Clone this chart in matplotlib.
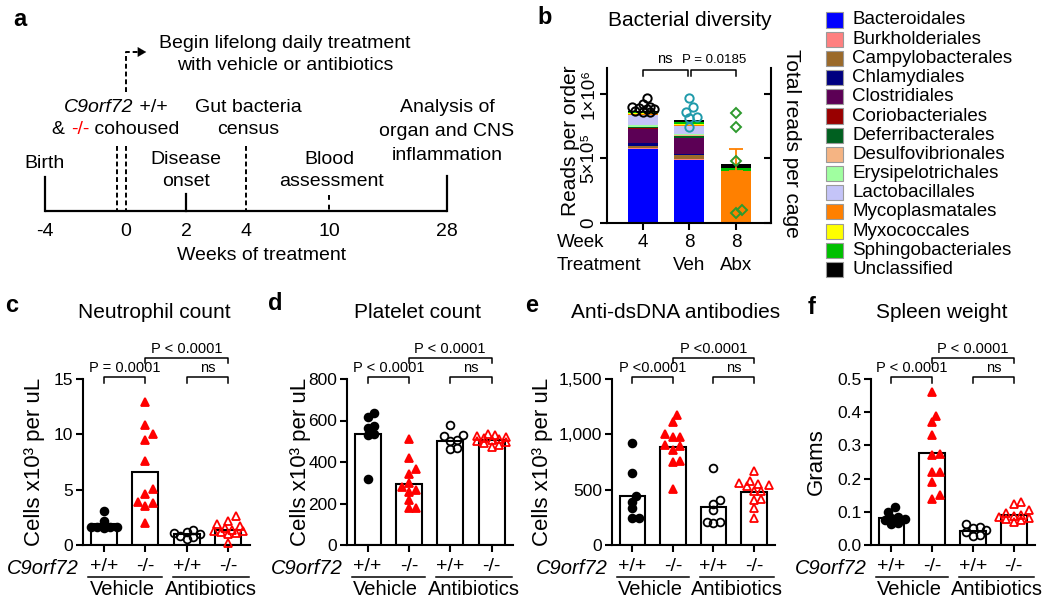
import numpy as np
import matplotlib
matplotlib.use('Agg')
import matplotlib.pyplot as plt
from matplotlib.patches import Rectangle
from matplotlib.transforms import blended_transform_factory
from matplotlib.ticker import FuncFormatter

plt.rcParams['font.family'] = ['Liberation Sans', 'DejaVu Sans']

# ------------------------------------------------------------------ data
timeline_weeks = ['-4', '0', '2', '4', '10', '28']

orders = ['Bacteroidales', 'Burkholderiales', 'Campylobacterales', 'Chlamydiales',
          'Clostridiales', 'Coriobacteriales', 'Deferribacterales', 'Desulfovibrionales',
          'Erysipelotrichales', 'Lactobacillales', 'Mycoplasmatales', 'Myxococcales',
          'Sphingobacteriales', 'Unclassified']
order_colors = ['#0000FF', '#FF8080', '#9B6A2A', '#000080', '#5C0055', '#990000',
                '#006020', '#F5B483', '#A0FFA0', '#C4C4F8', '#FF8000', '#FFFF00',
                '#00C000', '#000000']
b_week = ['4', '8', '8']
b_treatment = ['', 'Veh', 'Abx']
# reads per order (x 1e5) for week4, week8 Veh, week8 Abx
reads_wk4 = [5.75, 0.05, 0.15, 0.25, 1.10, 0.05, 0.05, 0.05, 0.10, 0.80, 0.05, 0.10, 0.10, 0.10]
reads_veh = [4.90, 0.05, 0.30, 0.10, 1.20, 0.05, 0.10, 0.10, 0.10, 0.60, 0.05, 0.15, 0.10, 0.20]
reads_abx = [0.05, 0.00, 0.00, 0.00, 0.02, 0.00, 0.00, 0.00, 0.00, 0.00, 3.95, 0.00, 0.25, 0.30]
myco_err_abx = 1.7
# total reads per cage (x 1e5)
cage_wk4 = [8.6, 8.7, 8.9, 8.8, 9.0, 9.7, 9.2, 8.8, 8.6, 9.0]
cage_veh = [8.6, 9.0, 8.1, 7.4, 9.7, 8.2]
cage_abx = [8.5, 7.4, 4.8, 0.8, 1.0]

genotypes = ['+/+', '-/-', '+/+', '-/-']
treatments = ['Vehicle', 'Antibiotics']

neut_mean = [1.87, 6.63, 0.96, 1.36]
neut_pts = [[3.05, 2.2, 1.6, 1.55, 1.6, 1.6, 1.6],
            [12.95, 10.8, 10.0, 9.5, 7.6, 5.1, 4.6, 3.85, 3.76, 3.5, 2.0],
            [1.35, 1.2, 1.1, 1.0, 0.85, 0.75, 0.55],
            [2.6, 2.2, 1.9, 1.7, 1.5, 1.4, 1.3, 1.25, 1.2, 1.1, 0.15, 1.0]]
plat_mean = [534, 293, 502, 507]
plat_pts = [[635, 615, 575, 565, 530, 535, 318],
            [510, 420, 365, 340, 300, 280, 265, 255, 215, 180, 178],
            [580, 530, 525, 505, 500, 468, 462],
            [535, 530, 525, 520, 515, 510, 505, 500, 495, 490, 480, 470]]
dsdna_mean = [440, 885, 347, 483]
dsdna_pts = [[925, 650, 445, 390, 330, 240, 240],
             [1175, 1110, 1000, 980, 980, 905, 895, 860, 755, 750, 505],
             [700, 405, 375, 315, 210, 205, 195],
             [670, 575, 560, 550, 545, 530, 485, 415, 405, 330, 240, 490]]
spleen_mean = [0.080, 0.277, 0.043, 0.090]
spleen_pts = [[0.115, 0.10, 0.085, 0.082, 0.078, 0.075, 0.065, 0.062],
              [0.46, 0.39, 0.37, 0.33, 0.275, 0.27, 0.22, 0.22, 0.19, 0.15, 0.14],
              [0.062, 0.055, 0.05, 0.045, 0.04, 0.03, 0.027],
              [0.13, 0.125, 0.105, 0.095, 0.09, 0.088, 0.085, 0.08, 0.078, 0.075, 0.07]]

# ------------------------------------------------------------------ figure
W, H = 1050, 607
fig = plt.figure(figsize=(W / 100, H / 100), dpi=100)
renderer = fig.canvas.get_renderer()


def fx(x):
    return x / W


def fy(y):
    return 1 - y / H


def axes_px(left, top, right, bottom):
    return fig.add_axes([fx(left), fy(bottom), (right - left) / W, (bottom - top) / H])


# ------------------------------------------------------------------ panel a
axa = fig.add_axes([0, 0, 1, 1])
axa.set_xlim(0, W)
axa.set_ylim(H, 0)
axa.axis('off')
FS_A = 14


def rich_text(xc, y, parts):
    texts, widths = [], []
    for s, kw in parts:
        t = axa.text(0, y, s, fontsize=FS_A, ha='left', va='center', **kw)
        widths.append(t.get_window_extent(renderer).width)
        texts.append(t)
    x = xc - sum(widths) / 2
    for t, w in zip(texts, widths):
        t.set_x(x)
        x += w


tl_x = [45, 126, 186, 246, 329, 447]  # schematic (non-linear) positions
base_y = 211
axa.plot([tl_x[0], tl_x[-1]], [base_y, base_y], color='black', lw=1.6, solid_capstyle='butt')
axa.plot([tl_x[0]] * 2, [177, base_y], color='black', lw=1.6)
axa.plot([tl_x[2]] * 2, [194, base_y], color='black', lw=1.6)
axa.plot([tl_x[-1]] * 2, [176, base_y], color='black', lw=1.6)
axa.plot([116.5] * 2, [146, base_y], color='black', lw=1.4, ls=(0, (2.5, 1.5)))
axa.plot([tl_x[1]] * 2, [146, base_y], color='black', lw=1.4, ls=(0, (2.5, 1.5)))
axa.plot([tl_x[3]] * 2, [146, base_y], color='black', lw=1.4, ls=(0, (2.5, 1.5)))
axa.plot([tl_x[4]] * 2, [195, base_y], color='black', lw=1.4, ls=(0, (2.5, 2.5)))
# arrow
axa.plot([tl_x[1], tl_x[1], 139], [92, 52, 52], color='black', lw=1.4, ls=(0, (2.5, 1.5)))
axa.annotate('', xy=(149, 52), xytext=(137, 52),
             arrowprops=dict(arrowstyle='-|>,head_length=0.6,head_width=0.35', color='black', lw=0.1))
for lab, x in zip(timeline_weeks, tl_x):
    axa.text(x, 231, lab, ha='center', va='center', fontsize=FS_A)
axa.text(262, 255, 'Weeks of treatment', ha='center', va='center', fontsize=FS_A)
axa.text(20, 20, 'a', ha='center', va='center', fontsize=17, fontweight='bold')
axa.text(285, 43, 'Begin lifelong daily treatment', ha='center', va='center', fontsize=FS_A)
axa.text(285, 65, 'with vehicle or antibiotics', ha='center', va='center', fontsize=FS_A)
rich_text(116, 108, [('C9orf72', dict(style='italic')), (' +/+', {})])
rich_text(116, 130, [('& ', {}), ('-/-', dict(color='red')), (' cohoused', {})])
axa.text(248, 108, 'Gut bacteria', ha='center', va='center', fontsize=FS_A)
axa.text(248, 130, 'census', ha='center', va='center', fontsize=FS_A)
axa.text(44, 163, 'Birth', ha='center', va='center', fontsize=FS_A)
axa.text(186, 160, 'Disease', ha='center', va='center', fontsize=FS_A)
axa.text(186, 182, 'onset', ha='center', va='center', fontsize=FS_A)
axa.text(329, 160, 'Blood', ha='center', va='center', fontsize=FS_A)
axa.text(331, 182, 'assessment', ha='center', va='center', fontsize=FS_A)
axa.text(447, 107, 'Analysis of', ha='center', va='center', fontsize=FS_A)
axa.text(447, 131, 'organ and CNS', ha='center', va='center', fontsize=FS_A)
axa.text(447, 155, 'inflammation', ha='center', va='center', fontsize=FS_A)


# ------------------------------------------------------------------ helpers
def swarm_offsets(ax, xc, vals, diam, maxoff=0.4):
    tr = ax.transData
    ys = [tr.transform((xc, v))[1] for v in vals]
    xpx = tr.transform((xc + 1, 0))[0] - tr.transform((xc, 0))[0]
    lim = maxoff * xpx
    step = 0.4 * diam
    cands = [0.0]
    k = 1
    while k * step <= lim:
        cands += [k * step, -k * step]
        k += 1
    order = np.argsort(ys)
    placed = []
    offs = np.zeros(len(vals))
    for i in order:
        best, bestd = 0.0, -1
        chosen = None
        for c in cands:
            d = min([np.hypot(c - px, ys[i] - py) for px, py in placed] + [1e9])
            if d >= 0.78 * diam:
                chosen = c
                break
            if d > bestd:
                best, bestd = c, d
        if chosen is None:
            chosen = best
        placed.append((chosen, ys[i]))
        offs[i] = chosen
    return offs / xpx


def style_axis(ax):
    for s in ['top', 'right']:
        ax.spines[s].set_visible(False)
    for s in ['left', 'bottom']:
        ax.spines[s].set_linewidth(1.5)


# ------------------------------------------------------------------ panel b
axb = axes_px(607, 68, 771, 223)
style_axis(axb)
axb.spines['right'].set_visible(True)
axb.spines['right'].set_linewidth(1.5)
SC = 1e5
xb = np.arange(3)
stack = np.array([reads_wk4, reads_veh, reads_abx]).T * SC
bottoms = np.zeros(3)
for j, (name, col) in enumerate(zip(orders, order_colors)):
    axb.bar(xb, stack[j], bottom=bottoms, width=0.645, color=col, edgecolor='none', zorder=2)
    bottoms = bottoms + stack[j]
myco_top = stack[:11, 2].sum()
axb.errorbar([2], [myco_top], yerr=[[0], [myco_err_abx * SC]], color=order_colors[10],
             capsize=5, lw=1.3, capthick=1.3, zorder=3)
pt_specs = [(cage_wk4, 'o', 'black', 6.0), (cage_veh, 'o', '#1E9AAA', 6.0), (cage_abx, 'D', '#2E9A2E', 4.6)]
axb.set_xlim(-0.77, 2.75)
axb.set_ylim(0, 1.2e6)
for i, (vals, mk, col, ms) in enumerate(pt_specs):
    v = np.array(vals) * SC
    offs = swarm_offsets(axb, i, v, ms * 1.39 + 1, maxoff=0.3)
    axb.plot(i + offs, v, ls='none', marker=mk, ms=ms, mfc='none', mec=col, mew=1.4, zorder=4, clip_on=False)
axb.set_yticks([0, 5e5, 1e6])
axb.set_yticklabels(['0', '5×10⁵', '1×10⁶'], rotation=90, va='center', fontsize=13.5)
axb.tick_params(axis='y', length=5, width=1.5, pad=2)
axb.set_xticks(xb)
axb.set_xticklabels(['' for _ in xb])
axb.tick_params(axis='x', length=5, width=1.5)
axb2 = axb.twinx()
axb2.set_ylim(axb.get_ylim())
axb2.set_yticks([0, 5e5, 1e6])
axb2.tick_params(axis='y', direction='in', length=5, width=1.5, labelright=False)
for s in axb2.spines.values():
    s.set_visible(False)
tb = blended_transform_factory(axb.transData, fig.transFigure)
for i in range(3):
    axb.text(i, fy(242), b_week[i], transform=tb, ha='center', va='center', fontsize=13.5)
    axb.text(i, fy(265), b_treatment[i], transform=tb, ha='center', va='center', fontsize=13.5)
fig.text(fx(557), fy(242), 'Week', ha='left', va='center', fontsize=13.5)
fig.text(fx(557), fy(265), 'Treatment', ha='left', va='center', fontsize=13.5)
axb.set_ylabel('Reads per order', fontsize=15)
axb.yaxis.set_label_coords(-0.165, 0.53)
fig.text(fx(792), fy(143), 'Total reads per cage', rotation=270, ha='center', va='center', fontsize=15)
fig.text(fx(690), fy(20), 'Bacterial diversity', ha='center', va='center', fontsize=15)
fig.text(fx(545), fy(18), 'b', ha='center', va='center', fontsize=17, fontweight='bold')


def bracket_b(x0, x1, label, fs):
    y0, y1 = 1.186e6, 1.135e6
    axb.plot([x0, x0, x1, x1], [y1, y0, y0, y1], color='black', lw=1.1, clip_on=False)
    axb.text((x0 + x1) / 2, y0 + 0.03e6, label, ha='center', va='bottom', fontsize=fs)


bracket_b(0, 0.96, 'ns', 10.5)
bracket_b(1.04, 2, 'P = 0.0185', 9.5)

# legend (manual key)
for k, (name, col) in enumerate(zip(orders, order_colors)):
    yc = 20 + k * 19.2
    fig.patches.append(Rectangle((fx(826), fy(yc + 7.5)), 17 / W, 15 / H, transform=fig.transFigure,
                                 facecolor=col, edgecolor='#9A9A9A', lw=0.8))
    fig.text(fx(852), fy(yc), name, ha='left', va='center', fontsize=13.5)


# ------------------------------------------------------------------ panels c-f
def dot_panel(left, right, letter, letter_xy, title, title_x, means, pts, ymax, step,
              fmt, ylabel, ylab_x, p1, p2):
    ax = axes_px(left, 379, right, 545)
    style_axis(ax)
    x = np.arange(4)
    ax.set_xlim(-0.5, 3.52)
    ax.set_ylim(0, ymax)
    ax.bar(x, means, width=0.63, color='white', edgecolor='black', linewidth=1.5, zorder=1)
    styles = [('o', 'black', 'black', 5.6), ('^', 'red', 'red', 6.3),
              ('o', 'none', 'black', 5.6), ('^', 'none', 'red', 6.3)]
    for i in range(4):
        mk, fc, ec, ms = styles[i]
        offs = swarm_offsets(ax, i, pts[i], ms * 1.39 + 0.5, maxoff=0.4)
        ax.plot(i + offs, pts[i], ls='none', marker=mk, ms=ms, mfc=fc, mec=ec, mew=1.3,
                zorder=3, clip_on=False)
    ax.set_yticks(np.arange(0, ymax + step / 2, step))
    ax.yaxis.set_major_formatter(FuncFormatter(fmt))
    ax.tick_params(axis='y', labelsize=12.5, length=5, width=1.5, pad=2)
    ax.set_xticks(x)
    ax.set_xticklabels(genotypes)
    ax.tick_params(axis='x', labelsize=14, length=5, width=1.5, pad=4.5)
    ax.set_ylabel(ylabel, fontsize=16)
    ax.yaxis.set_label_coords(ylab_x, 0.5)
    bt = blended_transform_factory(ax.transData, ax.transAxes)
    for (a, b), lab in zip([(-0.37, 1.39), (1.66, 3.49)], treatments):
        ax.plot([a, b], [-0.193, -0.193], color='black', lw=1.1, transform=bt, clip_on=False)
    ax.text(0.44, -0.27, treatments[0], transform=bt, ha='center', va='center', fontsize=14.5)
    ax.text(2.58, -0.27, treatments[1], transform=bt, ha='center', va='center', fontsize=14.5)
    fig.text(fx(left - 4), fy(568), 'C9orf72', ha='right', va='center', fontsize=14.5, style='italic')

    def br(x0, x1, ylev, drop, lab):
        ax.plot([x0, x0, x1, x1], [ylev - drop, ylev, ylev, ylev - drop], color='black', lw=1.1,
                transform=bt, clip_on=False)
        ax.text((x0 + x1) / 2, ylev + 0.012, lab, transform=bt, ha='center', va='bottom', fontsize=10.5)
    br(0, 1, 1.012, 0.036, p1)
    br(2, 3, 1.012, 0.036, 'ns')
    br(1, 3, 1.127, 0.03, p2)
    fig.text(fx(title_x), fy(312), title, ha='center', va='center', fontsize=15)
    fig.text(fx(letter_xy[0]), fy(letter_xy[1]), letter, ha='center', va='center', fontsize=17,
             fontweight='bold')
    return ax


ylab_cells = 'Cells x10³ per uL'
dot_panel(83, 250, 'c', (12, 305), 'Neutrophil count', 154, neut_mean, neut_pts, 15, 5,
          lambda v, p: f'{v:.0f}', ylab_cells, -0.228, 'P = 0.0001', 'P < 0.0001')
dot_panel(347, 513, 'd', (275, 303), 'Platelet count', 417, plat_mean, plat_pts, 800, 200,
          lambda v, p: f'{v:.0f}', ylab_cells, -0.217, 'P < 0.0001', 'P < 0.0001')
dot_panel(612, 775, 'e', (532, 305), 'Anti-dsDNA antibodies', 676, dsdna_mean, dsdna_pts, 1500, 500,
          lambda v, p: f'{v:,.0f}', ylab_cells, -0.362, 'P <0.0001', 'P <0.0001')
dot_panel(871, 1035, 'f', (812, 307), 'Spleen weight', 942, spleen_mean, spleen_pts, 0.5, 0.1,
          lambda v, p: f'{v:.1f}', 'Grams', -0.268, 'P < 0.0001', 'P < 0.0001')

fig.savefig('out.png', dpi=100)
